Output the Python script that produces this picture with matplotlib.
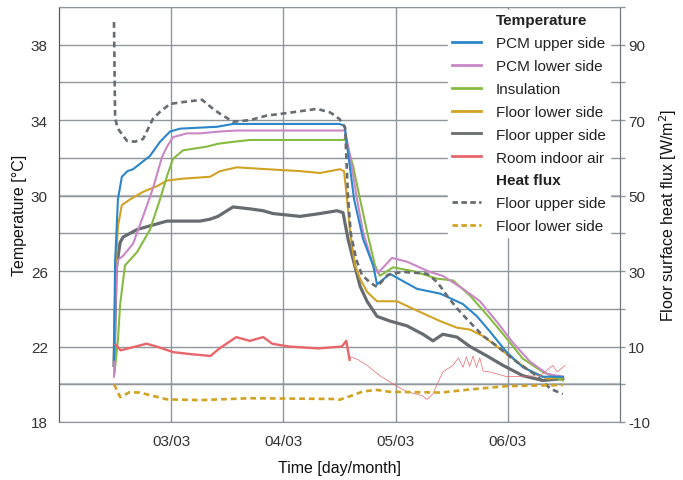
import matplotlib
matplotlib.use("Agg")
import matplotlib.pyplot as plt
from matplotlib.lines import Line2D

plt.rcParams["font.family"] = ["Liberation Sans", "DejaVu Sans"]
plt.rcParams["font.size"] = 11
plt.rcParams["axes.unicode_minus"] = False

# time in days of March
pcm_up_t = [2.49, 2.50, 2.525, 2.56, 2.61, 2.66, 2.81, 2.90, 2.99, 3.08, 3.41, 3.55, 4.50, 4.545,
            4.56, 4.63, 4.71, 4.80, 4.834, 4.95, 5.19, 5.40, 5.60, 5.725, 5.84, 5.99, 6.135, 6.31, 6.49]
pcm_up = [21.3, 26.5, 29.8, 31.0, 31.3, 31.4, 32.1, 32.85, 33.4, 33.55, 33.65, 33.8, 33.8, 33.7,
          33.0, 29.8, 27.7, 26.3, 25.3, 25.85, 25.06, 24.8, 24.25, 23.6, 22.8, 21.7, 20.9, 20.4, 20.4]

pcm_low_t = [2.49, 2.51, 2.526, 2.57, 2.66, 2.749, 2.838, 2.918, 2.963, 3.016, 3.14, 3.257, 3.435,
             3.586, 4.531, 4.549, 4.594, 4.656, 4.709, 4.799, 4.843, 4.968, 5.10, 5.307, 5.42,
             5.60, 5.752, 5.904, 6.046, 6.198, 6.35, 6.49]
pcm_low = [20.4, 26.0, 26.6, 26.8, 27.45, 28.9, 30.4, 32.05, 32.6, 33.1, 33.3, 33.3, 33.4,
           33.45, 33.45, 33.45, 32.1, 29.8, 28.1, 26.3, 25.9, 26.7, 26.5, 25.95, 25.75,
           25.06, 24.4, 23.3, 22.2, 21.2, 20.55, 20.4]

insul_t = [2.495, 2.526, 2.544, 2.588, 2.695, 2.811, 2.90, 2.963, 3.016, 3.105, 3.32, 3.417, 3.551,
           3.70, 4.531, 4.549, 4.62, 4.683, 4.745, 4.816, 4.86, 4.977, 5.155, 5.369, 5.512,
           5.663, 5.84, 5.993, 6.135, 6.314, 6.49]
insul = [20.6, 22.4, 24.2, 26.3, 27.0, 28.2, 29.8, 31.05, 31.95, 32.4, 32.6, 32.75, 32.85,
         32.95, 32.95, 33.0, 31.6, 29.8, 28.1, 26.3, 25.75, 26.2, 26.0, 25.6, 25.5,
         24.7, 23.5, 22.4, 21.35, 20.65, 20.2]

floor_low_t = [2.49, 2.508, 2.526, 2.56, 2.633, 2.749, 2.873, 2.963, 3.105, 3.346, 3.435, 3.586,
               3.854, 4.148, 4.326, 4.504, 4.54, 4.567, 4.594, 4.638, 4.683, 4.745, 4.834, 5.012,
               5.155, 5.396, 5.547, 5.663, 5.779, 5.904, 6.046, 6.198, 6.35, 6.49]
floor_low = [21.5, 26.5, 28.4, 29.5, 29.8, 30.2, 30.5, 30.8, 30.9, 31.0, 31.3, 31.5,
             31.4, 31.3, 31.2, 31.4, 31.3, 29.8, 28.1, 26.3, 25.6, 24.9, 24.4, 24.4,
             24.0, 23.35, 23.0, 22.9, 22.55, 22.0, 21.35, 20.7, 20.3, 20.35]

floor_up_t = [2.49, 2.51, 2.544, 2.57, 2.695, 2.811, 2.963, 3.257, 3.346, 3.417, 3.551, 3.70,
              3.818, 3.907, 4.148, 4.326, 4.478, 4.531, 4.576, 4.62, 4.683, 4.745, 4.834, 4.95,
              5.10, 5.244, 5.333, 5.42, 5.547, 5.663, 5.815, 5.957, 6.135, 6.314, 6.49]
floor_up = [21.0, 26.1, 27.5, 27.8, 28.2, 28.4, 28.65, 28.65, 28.75, 28.9, 29.4, 29.3,
            29.2, 29.05, 28.9, 29.05, 29.2, 29.1, 27.7, 26.65, 25.2, 24.4, 23.6, 23.35,
            23.1, 22.65, 22.3, 22.65, 22.5, 22.0, 21.5, 21.0, 20.45, 20.2, 20.3]

room_t = [2.505, 2.55, 2.65, 2.78, 2.87, 3.02, 3.17, 3.35, 3.43, 3.58, 3.70, 3.82, 3.90, 4.05,
          4.31, 4.52, 4.56, 4.59, 4.60, 4.665, 4.745, 4.86, 5.01, 5.10, 5.235, 5.28, 5.333,
          5.378, 5.42, 5.51, 5.56, 5.60, 5.63, 5.66, 5.69, 5.72, 5.75, 5.78, 5.84, 5.993,
          6.287, 6.40, 6.44, 6.51]
room = [22.1, 21.8, 21.95, 22.15, 22.0, 21.7, 21.6, 21.5, 21.9, 22.5, 22.3, 22.5, 22.15, 22.0,
        21.9, 22.0, 22.3, 21.3, 21.45, 21.3, 21.0, 20.45, 19.9, 19.6, 19.4, 19.2, 19.5,
        20.1, 20.65, 21.0, 21.4, 20.9, 21.45, 20.95, 21.5, 20.9, 21.4, 20.7, 20.65, 20.4,
        20.45, 21.0, 20.65, 21.0]
room_split = 18  # index where the sensor trace turns sparse

flux_up_t = [2.49, 2.50, 2.526, 2.606, 2.677, 2.749, 2.838, 2.90, 2.989, 3.105, 3.275, 3.373,
             3.435, 3.551, 3.70, 3.85, 4.06, 4.30, 4.42, 4.50, 4.55, 4.575, 4.60, 4.65, 4.70,
             4.77, 4.834, 4.93, 5.06, 5.28, 5.37, 5.46, 5.55, 5.66, 5.78, 5.90, 6.08, 6.26,
             6.38, 6.49]
flux_up = [96, 70.4, 67.7, 64.5, 64.3, 65.0, 70.4, 72.2, 74.3, 74.8, 75.4, 73.0,
           71.7, 69.6, 70.0, 71.2, 72.0, 73.0, 72.0, 70.3, 68.0, 50.0, 40.0, 33.0, 29.0,
           27.0, 25.8, 29.0, 29.8, 29.3, 27.1, 23.4, 20.0, 16.5, 12.8, 10.2, 5.9, 2.2,
           -1.2, -2.6]

flux_low_t = [2.49, 2.545, 2.63, 2.72, 2.96, 3.26, 3.70, 4.44, 4.50, 4.59, 4.71, 4.83, 4.95,
              5.40, 5.69, 5.99, 6.49]
flux_low = [0.0, -3.4, -2.1, -2.2, -4.0, -4.2, -3.7, -3.9, -4.1, -3.2, -1.9, -1.5, -2.0,
            -2.2, -1.3, -0.5, -0.2]

day_ticks = [3, 4, 5, 6]
day_labels = ["03/03", "04/03", "05/03", "06/03"]

c_blue = "#2a86c9"
c_pink = "#c987c5"
c_green = "#86bb42"
c_gold = "#d1a224"
c_gray = "#676c70"
c_red = "#e8666a"
grid_c = "#8f979b"

fig = plt.figure(figsize=(6.83, 4.81), dpi=100)
ax = fig.add_axes([0.0864, 0.1206, 0.8214, 0.8628])
ax2 = ax.twinx()

ax.set_xlim(2, 7)
ax.set_ylim(18, 40)
ax2.set_ylim(-10, 100)

ax.set_xticks(day_ticks)
ax.set_xticklabels(day_labels)
ax.set_yticks(range(18, 39, 4))
ax.set_yticks(range(20, 41, 4), minor=True)
ax.grid(True, which="both", color=grid_c, lw=1.0, zorder=0)
for yv in (20, 30):
    ax.axhline(yv, color="#bcc2c5", lw=1.6, zorder=0.5)

ax2.set_yticks(range(-10, 91, 20))
ax2.set_yticks(range(0, 101, 20), minor=True)

ax.tick_params(axis="both", which="both", length=0, colors="#333333", labelsize=11)
ax.tick_params(axis="y", pad=8)
ax.tick_params(axis="x", pad=9)
ax2.tick_params(axis="y", which="both", length=3.5, width=1, color=grid_c,
                labelcolor="#333333", labelsize=11, pad=2.5)

for a in (ax, ax2):
    a.spines["left"].set_color("#555a5e")
    a.spines["bottom"].set_color(grid_c)
    a.spines["top"].set_color(grid_c)
    a.spines["right"].set_color("#6f777b")

lw = 1.5
ax.plot(floor_up_t, floor_up, color=c_gray, lw=2.3, zorder=3)
ax.plot(floor_low_t, floor_low, color=c_gold, lw=lw, zorder=3)
ax.plot(insul_t, insul, color=c_green, lw=lw, zorder=3)
ax.plot(pcm_low_t, pcm_low, color=c_pink, lw=lw, zorder=3)
ax.plot(pcm_up_t, pcm_up, color=c_blue, lw=lw, zorder=3)
ax.plot(room_t[:room_split], room[:room_split], color=c_red, lw=1.7, zorder=3)
ax.plot(room_t[room_split - 1:], room[room_split - 1:], color=c_red, lw=0.5, zorder=3)

ax2.plot(flux_up_t, flux_up, color=c_gray, lw=1.9, dashes=(2.2, 1.5), zorder=3)
ax2.plot(flux_low_t, flux_low, color=c_gold, lw=1.9, dashes=(2.2, 1.5), zorder=3)

ax.set_xlabel("Time [day/month]", fontsize=11.5, labelpad=8, color="#111111")
ax.set_ylabel("Temperature [°C]", fontsize=11.5, labelpad=3, color="#111111")
ax2.set_ylabel("Floor surface heat flux [W/m$^2$]", fontsize=11.5, labelpad=5, color="#111111")

blank = Line2D([], [], linestyle="none")
handles = [blank,
           Line2D([], [], color=c_blue, lw=2),
           Line2D([], [], color=c_pink, lw=2),
           Line2D([], [], color=c_green, lw=2),
           Line2D([], [], color=c_gold, lw=2),
           Line2D([], [], color=c_gray, lw=2),
           Line2D([], [], color=c_red, lw=2),
           blank,
           Line2D([], [], color=c_gray, lw=2, dashes=(2, 1.2)),
           Line2D([], [], color=c_gold, lw=2, dashes=(2, 1.2))]
labels = ["Temperature", "PCM upper side", "PCM lower side", "Insulation", "Floor lower side",
          "Floor upper side", "Room indoor air", "Heat flux", "Floor upper side",
          "Floor lower side"]
leg = ax2.legend(handles, labels, loc="upper right", bbox_to_anchor=(0.995, 1.012),
                 frameon=True, fancybox=False, framealpha=1, edgecolor="white",
                 fontsize=11, handlelength=1.95, handletextpad=0.95, labelspacing=0.58,
                 borderpad=0.25)
leg.set_zorder(10)
for txt in leg.get_texts():
    txt.set_color("#222222")
    if txt.get_text() in ("Temperature", "Heat flux"):
        txt.set_fontweight("bold")

fig.savefig("out.png", dpi=100)
